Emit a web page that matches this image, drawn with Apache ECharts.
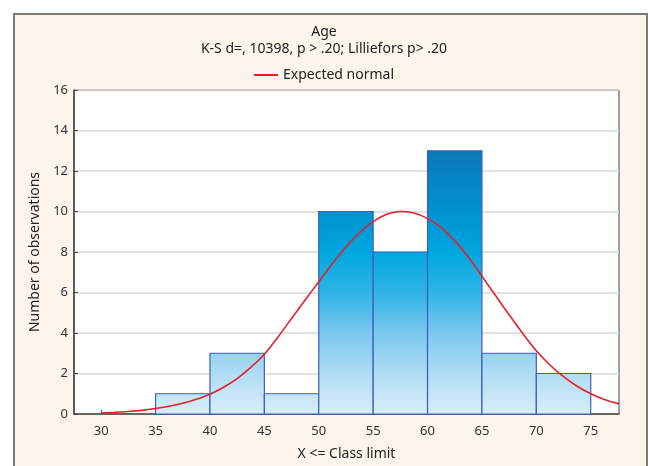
<!DOCTYPE html>
<html>
<head>
<meta charset="utf-8">
<script src="https://cdn.jsdelivr.net/npm/echarts@6/dist/echarts.min.js"></script>
<style>
html,body{margin:0;padding:0;background:#fff;}
#wrap{position:relative;width:648px;height:466px;overflow:hidden;}
#frame{position:absolute;left:13px;top:13px;width:631px;height:470px;border-left:2px solid #7a7a7a;border-top:2px solid #7a7a7a;border-right:2px solid #7a7a7a;background:#fdf4ec;}
#chart{position:absolute;left:0;top:0;width:648px;height:466px;}
</style>
</head>
<body>
<div id="wrap"><div id="frame"></div><div id="chart"></div></div>
<script>
// Histogram bins (X <= class limit)
const binStart = [35, 40, 45, 50, 55, 60, 65, 70];
const binEnd   = [40, 45, 50, 55, 60, 65, 70, 75];
const counts   = [1, 3, 1, 10, 8, 13, 3, 2];
// Expected normal curve
const curveX = [30, 31.25, 32.5, 33.75, 35, 36.25, 37.5, 38.75, 40, 41.25, 42.5, 43.75, 45, 46.25, 47.5, 48.75,
                50, 51.25, 52.5, 53.75, 55, 56.25, 57.5, 58.75, 60, 61.25, 62.5, 63.75, 65, 66.25, 67.5, 68.75,
                70, 71.25, 72.5, 73.75, 75, 76.25, 77.6];
const curveY = [0.05, 0.08, 0.12, 0.18, 0.27, 0.38, 0.53, 0.73, 0.98, 1.32, 1.75, 2.3, 2.95, 3.8, 4.72, 5.63,
                6.53, 7.42, 8.25, 8.95, 9.5, 9.86, 10.0, 9.93, 9.66, 9.2, 8.55, 7.75, 6.8, 5.85, 4.9, 3.98,
                3.12, 2.42, 1.84, 1.37, 1.0, 0.72, 0.5];
const xTicks = [30, 35, 40, 45, 50, 55, 60, 65, 70, 75];

const barData = binStart.map((s, i) => [s, binEnd[i], counts[i]]);
const lineData = curveX.map((x, i) => [x, curveY[i]]);

const chart = echarts.init(document.getElementById('chart'));
const FONT = 'Noto Sans';
const stops = [
  {offset: 0.0, color: '#0a6fae'},
  {offset: 0.19, color: '#0a78b8'},
  {offset: 0.375, color: '#0092d1'},
  {offset: 0.5, color: '#00a6df'},
  {offset: 0.625, color: '#30b4e6'},
  {offset: 0.75, color: '#7cc8ee'},
  {offset: 0.875, color: '#b0dcf4'},
  {offset: 1.0, color: '#d8eef9'}
];
chart.setOption({
  backgroundColor: 'transparent',
  animation: false,
  textStyle: {fontFamily: FONT},
  title: {
    text: 'Age',
    subtext: 'K-S d=, 10398, p > .20; Lilliefors p> .20',
    left: 'center',
    top: 20,
    itemGap: 3,
    textStyle: {fontFamily: FONT, fontSize: 14, fontWeight: 'normal', color: '#222'},
    subtextStyle: {fontFamily: FONT, fontSize: 14, color: '#222'}
  },
  legend: {
    data: ['Expected normal'],
    top: 63,
    left: 'center',
    icon: 'rect',
    itemWidth: 24,
    itemHeight: 2,
    itemGap: 6,
    textStyle: {fontFamily: FONT, fontSize: 14, color: '#222'}
  },
  grid: {
    left: 74, right: 29, top: 90, bottom: 51,
    show: true, backgroundColor: '#fff', borderColor: '#444', borderWidth: 1
  },
  xAxis: {
    type: 'value',
    min: 27.5,
    max: 77.6,
    name: 'X <= Class limit',
    nameLocation: 'middle',
    nameGap: 33,
    nameTextStyle: {fontFamily: FONT, fontSize: 14, color: '#222'},
    axisLine: {show: true, lineStyle: {color: '#444', width: 1.5}},
    axisTick: {show: true, inside: true, length: 4, customValues: xTicks, lineStyle: {color: '#444'}},
    axisLabel: {customValues: xTicks, fontFamily: FONT, fontSize: 13, color: '#333', margin: 11},
    splitLine: {show: false}
  },
  yAxis: {
    type: 'value',
    min: 0, max: 16, interval: 2,
    name: 'Number of observations',
    nameLocation: 'middle',
    nameGap: 31,
    nameTextStyle: {fontFamily: FONT, fontSize: 14, color: '#222'},
    axisLine: {show: true, lineStyle: {color: '#444', width: 1.5}},
    axisTick: {show: true, inside: true, length: 4, lineStyle: {color: '#444'}},
    axisLabel: {fontFamily: FONT, fontSize: 13, color: '#333', margin: 6},
    splitLine: {show: true, lineStyle: {color: '#d9d9d9', width: 1.5}}
  },
  series: [
    {
      name: 'Histogram',
      type: 'custom',
      data: barData,
      encode: {x: [0, 1], y: 2},
      z: 2,
      renderItem: function (params, api) {
        const x0 = api.value(0), x1 = api.value(1), c = api.value(2);
        const p0 = api.coord([x0, c]);
        const p1 = api.coord([x1, 0]);
        const top = api.coord([x0, 16])[1];
        const bottom = api.coord([x0, 0])[1];
        return {
          type: 'rect',
          shape: {x: p0[0], y: p0[1], width: p1[0] - p0[0], height: p1[1] - p0[1]},
          style: {
            fill: new echarts.graphic.LinearGradient(0, top, 0, bottom, stops, true),
            stroke: '#3d5fb8',
            lineWidth: 1.2
          }
        };
      }
    },
    {
      name: 'Expected normal',
      type: 'line',
      data: lineData,
      smooth: 0.3,
      showSymbol: false,
      symbol: 'none',
      z: 5,
      lineStyle: {color: '#e5202a', width: 1.6},
      itemStyle: {color: '#e5202a'}
    }
  ]
});
</script>
</body>
</html>
